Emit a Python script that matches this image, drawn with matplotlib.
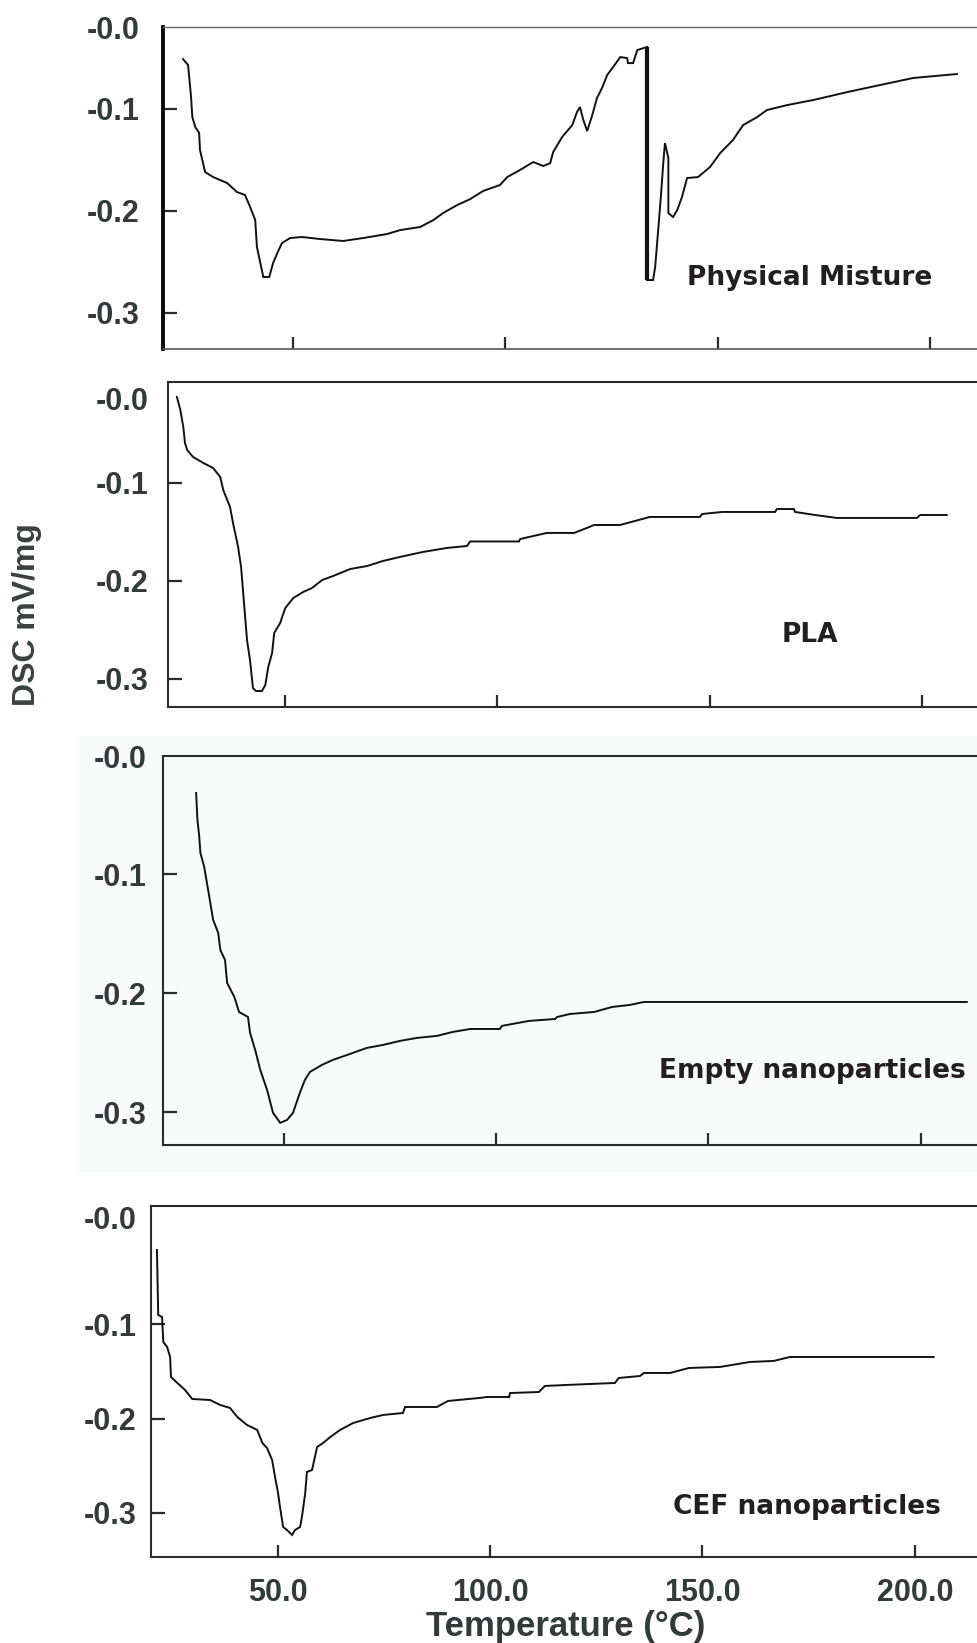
import numpy as np
import matplotlib
matplotlib.use('Agg')
from matplotlib import pyplot as plt
from matplotlib.patches import Rectangle

# DSC curves (temperature in °C, DSC in mV/mg)
mixture_temp = [24.2, 25.4, 26.1, 26.4, 27.1, 28.0, 28.2, 29.4, 31.3, 34.6, 36.9, 38.8, 40.0, 41.2,
                41.6, 42.6, 43.1, 44.5, 45.4, 46.4, 47.5, 49.4, 52.2, 56.5, 61.9, 66.6, 72.2, 75.3,
                80.0, 83.1, 85.4, 88.7, 91.8, 94.8, 98.8, 100.5, 103.5, 106.6, 109.0, 110.6, 111.3,
                113.4, 115.8, 116.9, 117.6, 118.4, 119.3, 120.5, 121.6, 122.8, 124.0, 125.4, 127.1,
                128.7, 128.9, 130.1, 131.1, 133.4, 133.4, 134.8, 135.3, 136.2, 136.7, 137.2, 137.6,
                138.4, 138.4, 139.5, 140.5, 141.6, 142.8, 145.4, 148.2, 150.6, 153.6, 156.0, 159.3,
                161.6, 166.4, 172.5, 180.5, 188.2, 196.0, 206.3]
mixture_dsc = [-0.0513, -0.0572, -0.0885, -0.1082, -0.1180, -0.1238, -0.1405, -0.1621, -0.1670,
               -0.1729, -0.1817, -0.1846, -0.1964, -0.2092, -0.2356, -0.2552, -0.2650, -0.2650,
               -0.2513, -0.2415, -0.2317, -0.2268, -0.2258, -0.2278, -0.2297, -0.2268, -0.2229,
               -0.2190, -0.2160, -0.2092, -0.2023, -0.1945, -0.1886, -0.1807, -0.1748, -0.1670,
               -0.1601, -0.1523, -0.1562, -0.1533, -0.1425, -0.1278, -0.1160, -0.1033, -0.0984,
               -0.1111, -0.1219, -0.1062, -0.0895, -0.0797, -0.0670, -0.0592, -0.0494, -0.0504,
               -0.0553, -0.0553, -0.0425, -0.0395, -0.2680, -0.2680, -0.2552, -0.2092, -0.1827,
               -0.1533, -0.1337, -0.1484, -0.2023, -0.2062, -0.1993, -0.1866, -0.1680, -0.1670,
               -0.1572, -0.1435, -0.1307, -0.1160, -0.1082, -0.1013, -0.0964, -0.0915, -0.0837,
               -0.0768, -0.0699, -0.0660]

pla_temp = [24.6, 25.4, 26.1, 26.5, 27.0, 28.4, 30.8, 33.1, 34.8, 35.5, 37.1, 37.8, 39.0, 39.7,
            40.2, 41.1, 41.8, 42.5, 43.2, 44.6, 45.4, 46.1, 47.0, 47.5, 48.9, 50.1, 52.0, 54.3,
            56.4, 58.8, 61.4, 65.4, 69.4, 73.1, 77.1, 82.5, 88.2, 92.9, 93.6, 98.3, 105.1, 105.4,
            107.5, 111.7, 118.1, 121.1, 122.8, 128.9, 132.4, 135.9, 147.7, 148.2, 152.9, 165.4,
            165.8, 169.8, 170.1, 174.8, 179.9, 198.8, 199.5, 205.8]
pla_dsc = [-0.0126, -0.0258, -0.0432, -0.0595, -0.0666, -0.0738, -0.0799, -0.0850, -0.0942,
           -0.1075, -0.1248, -0.1411, -0.1656, -0.1860, -0.2126, -0.2606, -0.2810, -0.3095,
           -0.3126, -0.3126, -0.3065, -0.2881, -0.2738, -0.2534, -0.2432, -0.2279, -0.2177,
           -0.2116, -0.2075, -0.1993, -0.1952, -0.1881, -0.1850, -0.1799, -0.1758, -0.1707,
           -0.1666, -0.1646, -0.1600, -0.1600, -0.1600, -0.1575, -0.1554, -0.1513, -0.1513,
           -0.1462, -0.1432, -0.1432, -0.1391, -0.1350, -0.1350, -0.1320, -0.1299, -0.1299,
           -0.1269, -0.1269, -0.1299, -0.1330, -0.1360, -0.1360, -0.1330, -0.1330]

empty_temp = [29.4, 29.7, 30.1, 30.4, 31.3, 32.5, 33.4, 34.6, 35.1, 36.2, 36.7, 38.4, 39.5, 41.6,
              42.1, 43.3, 44.5, 46.1, 47.5, 49.2, 50.8, 52.2, 53.8, 55.0, 56.2, 59.0, 61.6, 65.6,
              69.6, 73.4, 77.4, 81.4, 86.1, 89.8, 93.9, 100.9, 101.4, 103.8, 107.8, 113.9, 114.4,
              117.4, 123.1, 127.3, 131.5, 134.8, 210.8]
empty_dsc = [-0.0317, -0.0543, -0.0669, -0.0820, -0.0938, -0.1190, -0.1383, -0.1493, -0.1636,
             -0.1720, -0.1913, -0.2031, -0.2157, -0.2199, -0.2334, -0.2476, -0.2644, -0.2812,
             -0.3005, -0.3089, -0.3064, -0.3005, -0.2838, -0.2728, -0.2661, -0.2602, -0.2560,
             -0.2510, -0.2459, -0.2434, -0.2400, -0.2375, -0.2358, -0.2325, -0.2300, -0.2300,
             -0.2274, -0.2258, -0.2232, -0.2216, -0.2199, -0.2174, -0.2157, -0.2115, -0.2098,
             -0.2073, -0.2073]

cef_temp = [21.6, 21.9, 22.8, 23.1, 24.0, 24.7, 24.9, 26.4, 28.2, 29.9, 34.1, 36.5, 38.8, 40.5,
            42.8, 45.2, 46.4, 47.5, 48.7, 49.4, 50.1, 50.6, 51.3, 52.2, 53.4, 54.1, 55.3, 55.8,
            56.5, 56.9, 58.1, 59.3, 60.7, 62.4, 64.7, 67.8, 71.8, 74.8, 79.5, 80.0, 87.5, 90.1,
            97.6, 99.3, 104.5, 104.7, 111.5, 112.9, 118.1, 129.4, 130.3, 135.3, 136.2, 142.4,
            146.8, 154.1, 161.2, 166.8, 170.6, 204.4]
cef_dsc = [-0.0210, -0.0900, -0.0921, -0.1187, -0.1240, -0.1346, -0.1558, -0.1622, -0.1696,
           -0.1792, -0.1803, -0.1856, -0.1887, -0.1983, -0.2068, -0.2121, -0.2259, -0.2312,
           -0.2439, -0.2620, -0.2790, -0.2949, -0.3151, -0.3183, -0.3236, -0.3183, -0.3151,
           -0.3023, -0.2790, -0.2567, -0.2546, -0.2302, -0.2259, -0.2196, -0.2121, -0.2047,
           -0.1994, -0.1962, -0.1941, -0.1877, -0.1877, -0.1813, -0.1781, -0.1771, -0.1771,
           -0.1729, -0.1718, -0.1654, -0.1643, -0.1622, -0.1569, -0.1548, -0.1516, -0.1516,
           -0.1463, -0.1452, -0.1399, -0.1388, -0.1346, -0.1346]

panel_names = ['Physical Misture', 'PLA', 'Empty nanoparticles', 'CEF nanoparticles']
x_ticks = [50.0, 100.0, 150.0, 200.0]
x_tick_labels = ['50.0', '100.0', '150.0', '200.0']
y_ticks = [-0.1, -0.2, -0.3]
y_tick_labels = ['-0.0', '-0.1', '-0.2', '-0.3']

series = [(mixture_temp, mixture_dsc), (pla_temp, pla_dsc),
          (empty_temp, empty_dsc), (cef_temp, cef_dsc)]

W, H = 977, 1643
RIGHT = 985  # the scans run off the right edge of the picture

# pixel boxes of the four scans and the limits each one shows
layout = [
    dict(left=163, top=27, bottom=349, xlim=(19.5, 212.9), ylim=(-0.3356, -0.0199), zero=-0.0200,
         pad=17.0, name_xy=(687, 285), face='white'),
    dict(left=168, top=382, bottom=707, xlim=(22.5, 214.8), ylim=(-0.3289, 0.0027), zero=-0.0146,
         pad=14.0, name_xy=(782, 642), face='white'),
    dict(left=163, top=756, bottom=1145, xlim=(21.6, 215.1), ylim=(-0.3275, -0.0006), zero=-0.0014,
         pad=12.0, name_xy=(659, 1078), face='#f9fbfb'),
    dict(left=151, top=1206, bottom=1557, xlim=(20.2, 216.5), ylim=(-0.347, 0.0257), zero=0.0130,
         pad=10.5, name_xy=(673, 1514), face='white'),
]

fig = plt.figure(figsize=(W / 100, H / 100), dpi=100)
fig.patch.set_facecolor('white')

# faint grey backdrop behind the third scan
fig.add_artist(Rectangle((77 / W, 1 - 1173 / H), (W - 77) / W, (1173 - 737) / H,
                         transform=fig.transFigure, facecolor='#f9fbfb', edgecolor='none', zorder=0))

tick_color = '#323a3a'
spine_color = '#2b2b2b'

for i, (box, (temp, dsc)) in enumerate(zip(layout, series)):
    ax = fig.add_axes([box['left'] / W, 1 - box['bottom'] / H,
                       (RIGHT - box['left']) / W, (box['bottom'] - box['top']) / H])
    ax.set_facecolor(box['face'])
    ax.plot(temp, dsc, color='#111111', lw=1.4, solid_joinstyle='miter')

    if i == 0:
        # the sharp drop in the physical mixture trace is drawn heavier
        j = int(np.argmin(np.diff(dsc)))
        ax.plot(temp[j:j + 2], dsc[j:j + 2], color='#111111', lw=3.0, solid_capstyle='butt')

    ax.set_xlim(*box['xlim'])
    ax.set_ylim(*box['ylim'])

    ax.set_yticks([box['zero']] + y_ticks)
    ax.set_yticklabels(y_tick_labels, fontsize=22, fontweight='bold',
                       family='Liberation Sans', color=tick_color)
    ax.set_xticks(x_ticks)
    if i == 3:
        ax.set_xticklabels(x_tick_labels, fontsize=22, fontweight='bold',
                           family='Liberation Sans', color=tick_color)
    else:
        ax.set_xticklabels([])

    ax.tick_params(axis='y', direction='in', length=10, width=1.6, color=spine_color,
                   pad=box['pad'], left=True, right=False)
    ax.tick_params(axis='x', direction='in', length=9, width=1.6, color=spine_color,
                   pad=15, bottom=True, top=False)
    ax.yaxis.get_major_ticks()[0].tick1line.set_visible(False)

    ax.spines['right'].set_visible(False)
    for side in ['left', 'top', 'bottom']:
        ax.spines[side].set_color(spine_color)
        ax.spines[side].set_linewidth(1.5)
    if i == 0:
        ax.spines['left'].set_color('#0a0a0a')
        ax.spines['left'].set_linewidth(2.8)
        ax.spines['top'].set_color('#6a6a6a')
        ax.spines['top'].set_linewidth(1.0)
        ax.spines['bottom'].set_color('#555555')
        ax.spines['bottom'].set_linewidth(1.2)

    nx, ny = box['name_xy']
    fig.text(nx / W, 1 - ny / H, panel_names[i], ha='left', va='baseline', fontsize=19,
             fontweight='bold', family='DejaVu Sans', color='#231f20')

# shared axis titles
fig.text(27 / W, 1 - 615 / H, 'DSC mV/mg', rotation=90, ha='center', va='center',
         fontsize=23, fontweight='bold', family='Liberation Sans', color='#3a4040')
fig.text(566 / W, 1 - 1636 / H, 'Temperature (°C)', ha='center', va='baseline',
         fontsize=25, fontweight='bold', family='Liberation Sans', color=tick_color)

fig.savefig('out.png', dpi=100)
